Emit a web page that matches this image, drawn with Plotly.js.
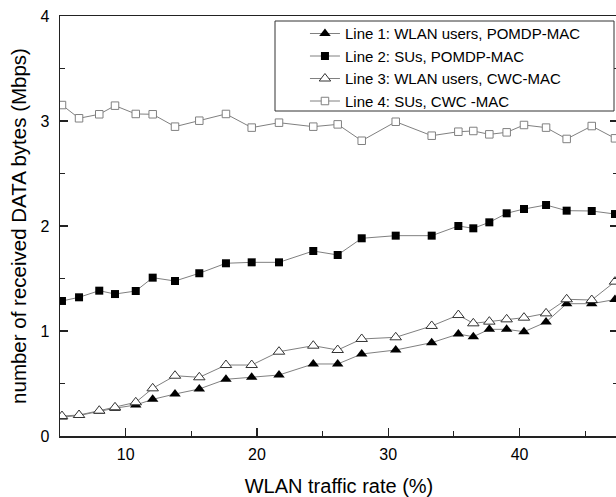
<!DOCTYPE html>
<html>
<head>
<meta charset="utf-8">
<script src="https://cdn.plot.ly/plotly-3.0.1.min.js"></script>
<style>
html,body{margin:0;padding:0;overflow:hidden;background:#fff;}
#chart{width:620px;height:497px;}
</style>
</head>
<body>
<div id="chart"></div>
<script>
// WLAN traffic rate (%)
const trafficRate = [5.15, 6.45, 7.99, 9.19, 10.77, 12.06, 13.76, 15.61, 17.64, 19.60, 21.68, 24.29, 26.15, 27.98, 30.57, 33.31, 35.34, 36.48, 37.70, 39.02, 40.34, 42.02, 43.59, 45.50, 47.27];
// Line 1: WLAN users, POMDP-MAC
const line1 = [0.18, 0.195, 0.235, 0.265, 0.295, 0.349, 0.40, 0.448, 0.540, 0.559, 0.581, 0.686, 0.686, 0.781, 0.819, 0.889, 0.971, 0.946, 1.016, 1.016, 0.993, 1.085, 1.26, 1.26, 1.30];
// Line 2: SUs, POMDP-MAC
const line2 = [1.286, 1.321, 1.384, 1.352, 1.381, 1.508, 1.476, 1.550, 1.645, 1.654, 1.654, 1.762, 1.724, 1.883, 1.908, 1.908, 2.000, 1.978, 2.035, 2.121, 2.162, 2.200, 2.146, 2.143, 2.114];
// Line 3: WLAN users, CWC-MAC
const line3 = [0.190, 0.200, 0.241, 0.273, 0.321, 0.454, 0.574, 0.559, 0.676, 0.676, 0.803, 0.860, 0.819, 0.924, 0.940, 1.048, 1.152, 1.073, 1.089, 1.111, 1.127, 1.168, 1.302, 1.295, 1.470];
// Line 4: SUs, CWC -MAC
const line4 = [3.152, 3.026, 3.064, 3.146, 3.067, 3.064, 2.946, 3.003, 3.067, 2.937, 2.984, 2.946, 2.968, 2.812, 2.993, 2.860, 2.898, 2.905, 2.873, 2.892, 2.962, 2.937, 2.829, 2.952, 2.835];

const names = ["Line 1: WLAN users, POMDP-MAC", "Line 2: SUs, POMDP-MAC", "Line 3: WLAN users, CWC-MAC", "Line 4: SUs, CWC -MAC"];
const xTickVals = [10, 20, 30, 40];
const yTickVals = [0, 1, 2, 3, 4];

const lineStyle = {color: '#808080', width: 1};
const traces = [
  {x: trafficRate, y: line4, name: names[3], legendrank: 4, mode: 'lines+markers', line: lineStyle,
   marker: {symbol: 'square', size: 7.5, color: '#ffffff', line: {color: '#808080', width: 1}}},
  {x: trafficRate, y: line2, name: names[1], legendrank: 2, mode: 'lines+markers', line: lineStyle,
   marker: {symbol: 'square', size: 8, color: '#000000', line: {color: '#000000', width: 0}}},
  {x: trafficRate, y: line1, name: names[0], legendrank: 1, mode: 'lines+markers', line: lineStyle,
   marker: {symbol: 'triangle-up', size: 10, color: '#000000', line: {color: '#000000', width: 0}}},
  {x: trafficRate, y: line3, name: names[2], legendrank: 3, mode: 'lines+markers', line: lineStyle,
   marker: {symbol: 'triangle-up', size: 10, color: '#ffffff', line: {color: '#333333', width: 1}}}
];

const layout = {
  width: 620, height: 497,
  margin: {l: 60, r: 2, t: 16, b: 61},
  paper_bgcolor: '#ffffff', plot_bgcolor: '#ffffff',
  font: {family: 'Liberation Sans, Arial, sans-serif', color: '#000000', size: 16},
  showlegend: true,
  legend: {
    x: 0.439, y: 0.997, xanchor: 'left', yanchor: 'top',
    bgcolor: 'rgba(0,0,0,0)', borderwidth: 0,
    font: {size: 15, family: 'Liberation Sans, Arial, sans-serif'},
    tracegroupgap: 0
  },
  shapes: [
    {type: 'rect', xref: 'paper', yref: 'paper', layer: 'above',
     x0: (275 - 60) / 558, x1: (614 - 60) / 558, y0: (436 - 111) / 420, y1: (436 - 21) / 420,
     fillcolor: '#ffffff', line: {color: '#333333', width: 1}}
  ],
  xaxis: {
    range: [5, 47.5], tickvals: xTickVals, ticks: 'inside', ticklen: 8, tickwidth: 1.2, tickcolor: '#222',
    minor: {dtick: 5, tick0: 0, ticks: 'inside', ticklen: 5, tickwidth: 1.2, tickcolor: '#222'},
    showline: true, linecolor: '#222', linewidth: 1.5, mirror: true,
    showgrid: false, zeroline: false, tickfont: {size: 16}, ticklabelstandoff: 3,
    title: {text: 'WLAN traffic rate (%)', font: {size: 20}, standoff: 17}
  },
  yaxis: {
    range: [0, 4], tickvals: yTickVals, ticks: 'inside', ticklen: 8, tickwidth: 1.2, tickcolor: '#222',
    minor: {dtick: 0.5, tick0: 0, ticks: 'inside', ticklen: 5, tickwidth: 1.2, tickcolor: '#222'},
    showline: true, linecolor: '#222', linewidth: 1.5, mirror: 'ticks',
    showgrid: false, zeroline: false, tickfont: {size: 16}, ticklabelstandoff: 6,
    title: {text: 'number of received DATA bytes (Mbps)', font: {size: 20.5}, standoff: 8}
  }
};

Plotly.newPlot('chart', traces, layout, {displayModeBar: false, staticPlot: true});
</script>
</body>
</html>
